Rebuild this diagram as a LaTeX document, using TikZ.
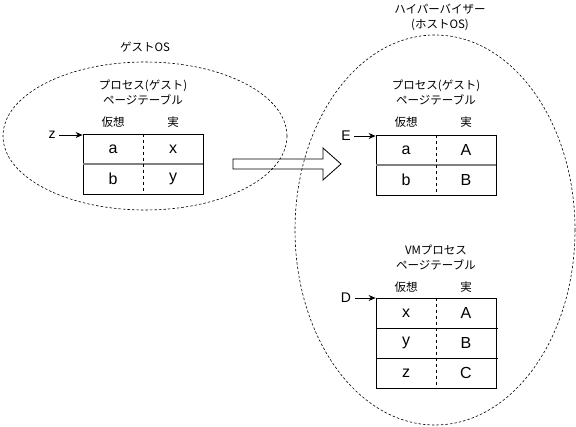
\documentclass[tikz,border=0pt]{standalone}
\usepackage{fontspec}
\setmainfont{Liberation Sans}
\newfontfamily\jp{Noto Sans CJK JP}
\usetikzlibrary{arrows.meta}
\begin{document}
\begin{tikzpicture}[x=1pt,y=-1pt,
    font=\fontsize{16}{18}\selectfont,
    region/.style={draw,dash pattern=on 2.5pt off 2pt,line width=0.6pt},
    tbl/.style={draw,line width=0.8pt,minimum width=120pt,inner sep=0pt},
    title/.style={font=\jp\fontsize{11.5}{15}\selectfont,align=center},
    lbl/.style={font=\fontsize{14}{16}\selectfont},
    ptr/.style={-{Stealth[length=7pt,width=6pt]},line width=0.8pt}]
    \useasboundingbox (0,0) rectangle (576,427);
    % big arrow (guest -> host)
    \draw[fill=white,line width=0.8pt] (233,159) -- (323,159) -- (323,148) -- (341,164)
        -- (323,180) -- (323,169) -- (233,169) -- cycle;
    \draw[region] (145,136) ellipse [x radius=142, y radius=74];
    \draw[region] (435,230) ellipse [x radius=140, y radius=195];
    \node[title] (guest) at (145,47) {ゲストOS};
    \node[title] (host) at (440,17) {ハイパーバイザー\\(ホストOS)};
    % guest page table
    \node[title] (ttlG) at (143,93) {プロセス(ゲスト)\\ページテーブル};
    \node[tbl,minimum height=60pt] (pgG) at (143,164) {};
    \draw[gray,line width=1.3pt] (pgG.west) -- (pgG.east);
    \draw[dashed] (pgG.north) -- (pgG.south);
    \node[title] at (113,122) {仮想};
    \node[title] at (173,122) {実};
    \foreach \v/\r [count=\i] in {a/x,b/y} {
        \node at (113,134+30*\i-15) {\v};
        \node at (173,134+30*\i-15) {\r};
    }
    \node[lbl] (z) at (52,135) {z};
    \draw[ptr] (z) -- (z -| pgG.west);
    % host: process page table
    \node[title] (ttlH) at (436,93) {プロセス(ゲスト)\\ページテーブル};
    \node[tbl,minimum height=60pt] (pgH) at (436,165) {};
    \draw[gray,line width=1.3pt] (pgH.west) -- (pgH.east);
    \draw[dashed] (pgH.north) -- (pgH.south);
    \node[title] at (406,122) {仮想};
    \node[title] at (466,122) {実};
    \foreach \v/\r [count=\i] in {a/A,b/B} {
        \node at (406,135+30*\i-15) {\v};
        \node at (466,135+30*\i-15) {\r};
    }
    \node[lbl] (E) at (346,136) {E};
    \draw[ptr] (E) -- (E -| pgH.west);
    % host: VM process page table
    \node[title] (ttlV) at (436,258) {VMプロセス\\ページテーブル};
    \node[tbl,minimum height=90pt] (pgV) at (436,343) {};
    \draw[line width=0.8pt] (376,328) -- (498,328) (376,358) -- (498,358);
    \draw[dashed] (pgV.north) -- (pgV.south);
    \node[title] at (406,287) {仮想};
    \node[title] at (466,287) {実};
    \foreach \v/\r [count=\i] in {x/A,y/B,z/C} {
        \node at (406,298+30*\i-15) {\v};
        \node at (466,298+30*\i-15) {\r};
    }
    \node[lbl] (D) at (346,298) {D};
    \draw[ptr] (D) -- (D -| pgV.west);
\end{tikzpicture}
\end{document}
